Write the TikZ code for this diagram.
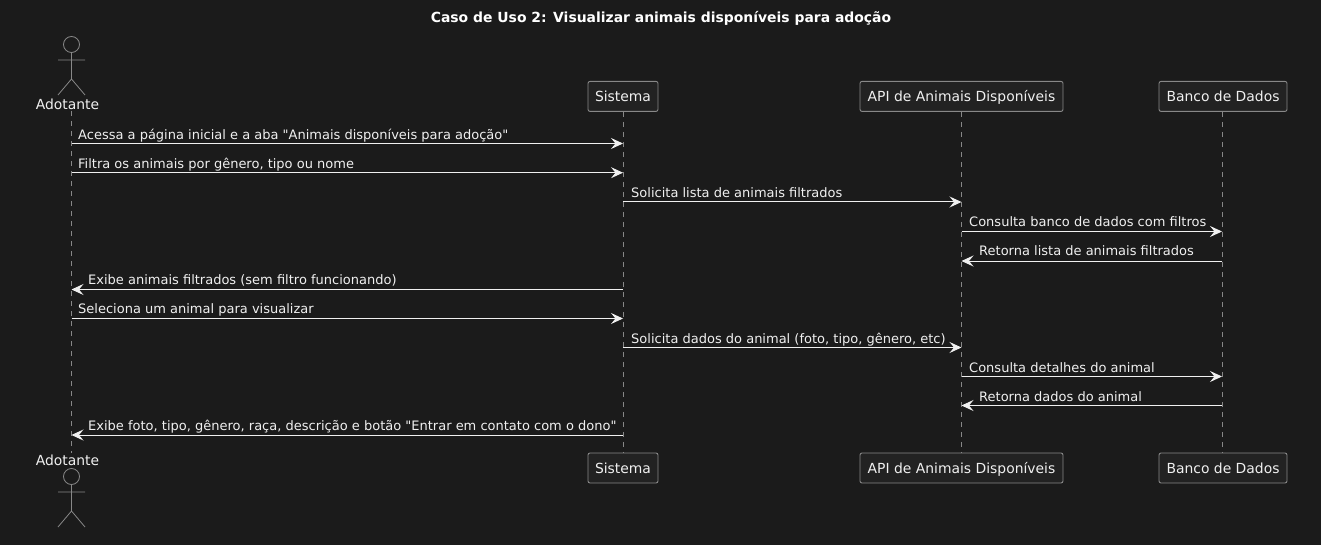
\documentclass[tikz,border=0pt]{standalone}
\usepackage{fontspec}
\setmainfont[Ligatures=TeXOff]{DejaVu Sans}
\usetikzlibrary{arrows.meta}
\definecolor{bgc}{HTML}{1B1B1B}
\definecolor{boxc}{HTML}{222222}
\definecolor{edge}{HTML}{888888}
\definecolor{ink}{HTML}{F0F0F0}
\tikzset{
  part/.style={draw=edge,fill=boxc,line width=.9pt,rounded corners=2pt,text=ink,font=\fontsize{13.9}{16}\selectfont,minimum height=30pt,inner sep=0pt,anchor=center,text height=10pt,text depth=0pt},
  actorlabel/.style={text=ink,font=\fontsize{13.9}{16}\selectfont,inner sep=0pt,anchor=center,text height=10pt,text depth=0pt},
  life/.style={draw=edge,line width=.9pt,dash pattern=on 5pt off 5pt},
  stick/.style={draw=edge,line width=.8pt},
  msg/.style={draw=ink,line width=1pt,-{Stealth[length=12pt,width=11pt,inset=4.5pt]}},
  lbl/.style={text=ink,font=\fontsize{13}{15}\selectfont,inner sep=0pt,anchor=base west},
}
\newcommand{\stickman}[2]{%
  \draw[stick] (#1,#2) circle[radius=8pt];
  \draw[stick] (#1,#2+8) -- (#1,#2+34.5) (#1-13.5,#2+15.5) -- (#1+13.5,#2+15.5)
     (#1-13.5,#2+50.5) -- (#1,#2+34.5) -- (#1+13.5,#2+50.5);}
\begin{document}
\begin{tikzpicture}[x=1pt,y=-1pt]
\useasboundingbox[fill=bgc] (0,0) rectangle (1321,545);
\node[text=white,font=\fontsize{13.93}{16}\selectfont\bfseries,inner sep=0pt,text height=10pt,text depth=0pt] (title) at (661,17.6) {Caso de Uso 2: Visualizar animais disponíveis para adoção};

\node[actorlabel] (a1) at (67.5,104.6) {Adotante};
\node[actorlabel] (a2) at (67.5,460) {Adotante};
\coordinate (al) at (71.5,0);
\node[part,minimum width=70pt] (s1) at (623,96.4) {Sistema};
\node[part,minimum width=70pt] (s2) at (623,468) {Sistema};
\node[part,minimum width=203pt] (p1) at (961.5,96.4) {API de Animais Disponíveis};
\node[part,minimum width=203pt] (p2) at (961.5,468) {API de Animais Disponíveis};
\node[part,minimum width=128pt] (b1) at (1223,96.4) {Banco de Dados};
\node[part,minimum width=128pt] (b2) at (1223,468) {Banco de Dados};

\coordinate (sx) at (623,0);
\coordinate (px) at (961.5,0);
\coordinate (bx) at (1222,0);
\coordinate (at) at (71.5,111);
\coordinate (ab) at (71.5,453);
\draw[life] (at) -- (ab);
\draw[life] (s1.south) -- (s2.north);
\draw[life] (p1.south) -- (p2.north);
\draw[life] (bx |- b1.south) -- (bx |- b2.north);

\stickman{71.5}{44.5}
\stickman{71.5}{476.5}

\foreach \n/\y in {1/143.5,2/172.7,3/202,4/231.5,5/261,6/289.5,7/318.5,8/347.5,9/376.5,10/405.5,11/435}
  \coordinate (r\n) at (0,\y);

\draw[msg] (al |- r1) -- (sx |- r1);
\draw[msg] (al |- r2) -- (sx |- r2);
\draw[msg] (sx |- r3) -- (px |- r3);
\draw[msg] (px |- r4) -- (bx |- r4);
\draw[msg] (bx |- r5) -- (px |- r5);
\draw[msg] (sx |- r6) -- (al |- r6);
\draw[msg] (al |- r7) -- (sx |- r7);
\draw[msg] (sx |- r8) -- (px |- r8);
\draw[msg] (px |- r9) -- (bx |- r9);
\draw[msg] (bx |- r10) -- (px |- r10);
\draw[msg] (sx |- r11) -- (al |- r11);

\node[lbl] (t1) at (78,139.4) {Acessa a página inicial e a aba "Animais disponíveis para adoção"};
\node[lbl] (t2) at (78,168.4) {Filtra os animais por gênero, tipo ou nome};
\node[lbl] (t3) at (631,197.4) {Solicita lista de animais filtrados};
\node[lbl] (t4) at (969,226) {Consulta banco de dados com filtros};
\node[lbl] (t5) at (979,255) {Retorna lista de animais filtrados};
\node[lbl] (t6) at (88,284) {Exibe animais filtrados (sem filtro funcionando)};
\node[lbl] (t7) at (78,313) {Seleciona um animal para visualizar};
\node[lbl] (t8) at (631,343) {Solicita dados do animal (foto, tipo, gênero, etc)};
\node[lbl] (t9) at (969,372) {Consulta detalhes do animal};
\node[lbl] (t10) at (979,401) {Retorna dados do animal};
\node[lbl] (t11) at (88,430) {Exibe foto, tipo, gênero, raça, descrição e botão "Entrar em contato com o dono"};
\end{tikzpicture}
\end{document}
